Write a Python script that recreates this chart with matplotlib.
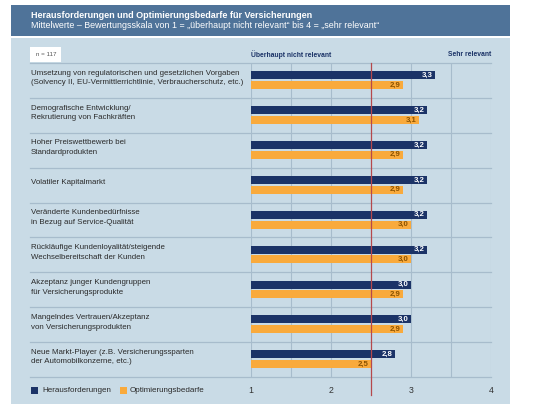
import matplotlib
matplotlib.use("Agg")
import matplotlib.pyplot as plt
from matplotlib.patches import Rectangle

plt.rcParams['font.family'] = ['Liberation Sans', 'DejaVu Sans']

categories = [
    "Umsetzung von regulatorischen und gesetzlichen Vorgaben\n(Solvency II, EU-Vermittlerrichtlinie, Verbraucherschutz, etc.)",
    "Demografische Entwicklung/\nRekrutierung von Fachkräften",
    "Hoher Preiswettbewerb bei\nStandardprodukten",
    "Volatiler Kapitalmarkt",
    "Veränderte Kundenbedürfnisse\nin Bezug auf Service-Qualität",
    "Rückläufige Kundenloyalität/steigende\nWechselbereitschaft der Kunden",
    "Akzeptanz junger Kundengruppen\nfür Versicherungsprodukte",
    "Mangelndes Vertrauen/Akzeptanz\nvon Versicherungsprodukten",
    "Neue Markt-Player (z.B. Versicherungssparten\nder Automobilkonzerne, etc.)",
]
herausforderungen = [3.3, 3.2, 3.2, 3.2, 3.2, 3.2, 3.0, 3.0, 2.8]
optimierung = [2.9, 3.1, 2.9, 2.9, 3.0, 3.0, 2.9, 2.9, 2.5]
series_names = ["Herausforderungen", "Optimierungsbedarfe"]
xticks = [1, 2, 3, 4]

W, H = 540, 411
NAVY = "#1b3367"
ORANGE = "#f9aa3c"
HEAD = "#4f7399"
BODY = "#c9dbe6"
GRID = "#a7bccc"
RED = "#b5484c"

fig = plt.figure(figsize=(W / 100, H / 100), dpi=100)

# background panels in pixel coordinates
bg = fig.add_axes([0, 0, 1, 1])
bg.set_xlim(0, W)
bg.set_ylim(H, 0)
bg.axis("off")
bg.add_patch(Rectangle((11, 5), 499, 31, color=HEAD, lw=0))
bg.add_patch(Rectangle((11, 38), 499, 366, color=BODY, lw=0))
bg.add_patch(Rectangle((30, 47), 31, 15, color="white", lw=0))
bg.text(31, 15, "Herausforderungen und Optimierungsbedarfe für Versicherungen",
        color="white", fontsize=6.5, fontweight="bold", va="center")
bg.text(31, 26, "Mittelwerte – Bewertungsskala von 1 = „überhaupt nicht relevant“ bis 4 = „sehr relevant“",
        color="white", fontsize=6.4, va="center")
bg.text(36, 55, "n = 117", color="#555555", fontsize=4.5, va="center")

# main axes: x=1 at 251px, x=4 at 491px; rows from 63px to 377px
left, right = 251, 491
top, bottom = 63, 377
ax = fig.add_axes([left / W, 1 - bottom / H, (right - left) / W, (bottom - top) / H])
ax.patch.set_alpha(0)
n = len(categories)
ax.set_xlim(1, 4)
ax.set_ylim(n - 0.5, -0.5)
for s in ax.spines.values():
    s.set_visible(False)
ax.set_xticks([])
ax.set_yticks([])

for xv in [1, 1.5, 2, 3, 3.5, 4]:
    ax.axvline(xv, color=GRID, lw=0.8, zorder=1)
ax.plot([2.5, 2.5], [-0.5, n - 0.5 + 0.52], color=RED, lw=0.9, zorder=4, clip_on=False)

trans = ax.get_yaxis_transform()
x0 = (30 - left) / (right - left)
for b in range(n + 1):
    ax.plot([x0, 1], [b - 0.5, b - 0.5], color=GRID, lw=0.9, transform=trans,
            clip_on=False, zorder=1)

h = 0.23
for i in range(n):
    yn = i - 0.15
    yo = i + 0.13
    ax.barh(yn, herausforderungen[i] - 1, left=1, height=h, color=NAVY, zorder=3)
    ax.barh(yo, optimierung[i] - 1, left=1, height=h, color=ORANGE, zorder=3)
    ax.text(herausforderungen[i] - 0.03, yn, f"{herausforderungen[i]:.1f}".replace(".", ","),
            color="white", fontsize=5.6, fontweight="bold", ha="right", va="center", zorder=5)
    ax.text(optimierung[i] - 0.03, yo, f"{optimierung[i]:.1f}".replace(".", ","),
            color="#8a5200", fontsize=5.6, fontweight="bold", ha="right", va="center", zorder=5)
    ax.text(x0 + 0.003, i - 0.07, categories[i], transform=trans, fontsize=5.7,
            color="#2a2a2a", ha="left", va="center", linespacing=1.55)

# header labels above the axes
ax.text(1, -0.5 - 0.24, "Überhaupt nicht relevant", color=NAVY, fontsize=4.9,
        fontweight="bold", ha="left", va="center", clip_on=False)
ax.text(4, -0.5 - 0.24, "Sehr relevant", color=NAVY, fontsize=4.9,
        fontweight="bold", ha="right", va="center", clip_on=False)

# tick labels
for t in xticks:
    ax.text(t, n - 0.5 + 0.38, str(t), color="#333333", fontsize=6.3,
            ha="center", va="center", clip_on=False)

# legend
bg.add_patch(Rectangle((31, 387), 7, 7, color=NAVY, lw=0))
bg.text(42, 390.5, series_names[0], fontsize=5.8, color="#2a2a2a", va="center")
bg.add_patch(Rectangle((120, 387), 7, 7, color=ORANGE, lw=0))
bg.text(130, 390.5, series_names[1], fontsize=5.8, color="#2a2a2a", va="center")

fig.savefig("out.png", dpi=100)
